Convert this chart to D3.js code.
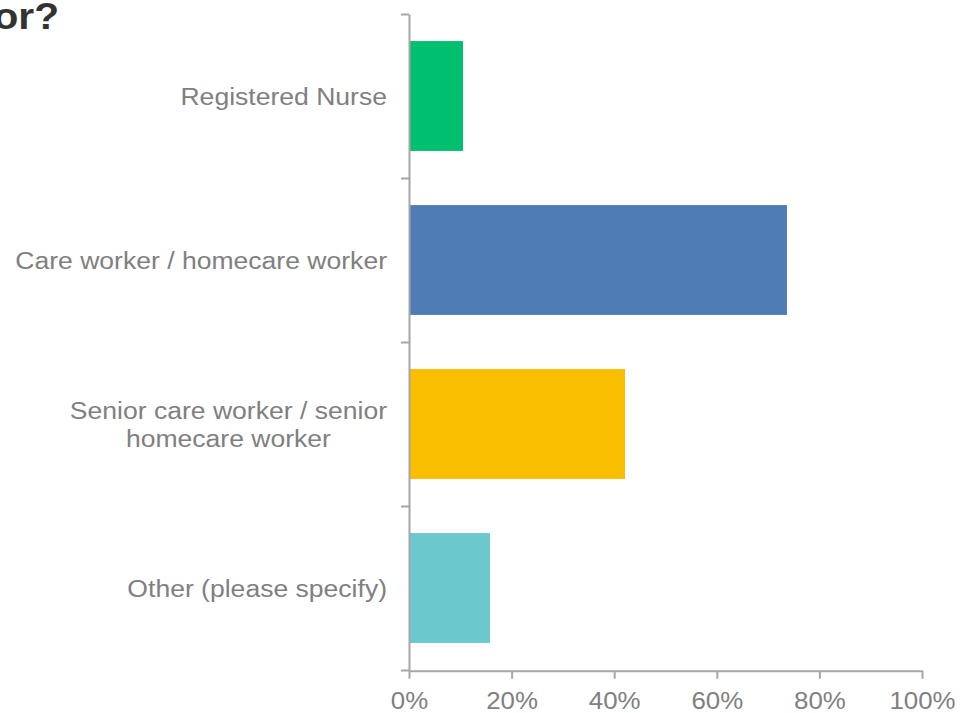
<!DOCTYPE html>
<html>
<head>
<meta charset="utf-8">
<script src="https://cdn.jsdelivr.net/npm/d3@7"></script>
<style>
  html, body { margin: 0; padding: 0; background: #fff; }
  svg { display: block; }
  text { font-family: Arial, "Liberation Sans", Helvetica, sans-serif; }
</style>
</head>
<body>
<svg id="chart" width="960" height="713"></svg>
<script>
// Answer options (label lines) and share of respondents choosing each
const categories = ["Registered Nurse", "Care worker / homecare worker", "Senior care worker / senior homecare worker", "Other (please specify)"];
const labelLines = [["Registered Nurse"], ["Care worker / homecare worker"], ["Senior care worker / senior", "homecare worker"], ["Other (please specify)"]];
const values = [10.53, 73.68, 42.11, 15.79];
const colors = ["#00bf6f", "#507cb6", "#f9be00", "#6bc8cd"];
const xTicks = [0, 20, 40, 60, 80, 100];
const titleText = "or?";

const svg = d3.select("#chart");
const stretch = 1.1;          // horizontal glyph stretch for tick labels and title
const labelStretch = 1.13;    // horizontal glyph stretch for category labels
const axisColor = "#a6a6a6";
const labelColor = "#808080";
const labelSize = 23.5;

const x = d3.scaleLinear().domain([0, 100]).range([409, 922]);
const y = d3.scaleBand().domain(categories).range([14, 670]).paddingInner(0.33).paddingOuter(0.165);
// boundaries between answer bands, for the left axis ticks
const yEdge = d3.scaleLinear().domain([0, categories.length]).range([14, 670]);

// title (continues off the left edge)
svg.append("text")
  .attr("transform", `translate(59,29.3) scale(${stretch},1)`)
  .attr("text-anchor", "end")
  .attr("font-size", 37)
  .attr("font-weight", "bold")
  .attr("fill", "#333333")
  .text(titleText);

// bars
svg.append("g").selectAll("rect")
  .data(categories)
  .join("rect")
  .attr("x", x(0))
  .attr("y", d => y(d))
  .attr("width", (d, i) => x(values[i]) - x(0))
  .attr("height", y.bandwidth())
  .attr("fill", (d, i) => colors[i]);

// bottom axis
const gx = svg.append("g")
  .attr("transform", "translate(0,670.7)")
  .call(d3.axisBottom(x).tickValues(xTicks).tickFormat(d => d + "%").tickSize(8).tickSizeOuter(0));
gx.selectAll("path, line").attr("stroke", axisColor).attr("stroke-width", 2);
gx.selectAll("text")
  .attr("y", 38.6).attr("dy", 0)
  .attr("transform", `scale(${stretch},1)`)
  .attr("font-size", labelSize)
  .attr("font-family", "Arial, 'Liberation Sans', sans-serif")
  .attr("fill", labelColor);

// left axis with ticks at band edges
const gy = svg.append("g")
  .attr("transform", "translate(409,0)")
  .call(d3.axisLeft(yEdge).tickValues(d3.range(categories.length + 1)).tickFormat("").tickSize(8).tickSizeOuter(0));
gy.selectAll("path, line").attr("stroke", axisColor).attr("stroke-width", 2);

// category labels: single lines right-aligned, wrapped labels centred as a block
const lineH = 29;
const lab = svg.append("g").selectAll("text")
  .data(categories)
  .join("text")
  .attr("transform", (d, i) => {
    const n = labelLines[i].length;
    const base = y(d) + y.bandwidth() / 2 + 9 - (n - 1) * (lineH / 2);
    return `translate(387,${base}) scale(${labelStretch},1)`;
  })
  .attr("font-size", labelSize)
  .attr("fill", labelColor);
lab.each(function (d, i) {
  const t = d3.select(this);
  const lines = labelLines[i];
  const spans = lines.map((line, j) =>
    t.append("tspan").attr("y", j * lineH).text(line));
  if (lines.length === 1) {
    spans[0].attr("x", 0).attr("text-anchor", "end");
  } else {
    const w = d3.max(spans, s => s.node().getComputedTextLength());
    spans.forEach(s => s.attr("x", -w / 2).attr("text-anchor", "middle"));
  }
});
</script>
</body>
</html>
